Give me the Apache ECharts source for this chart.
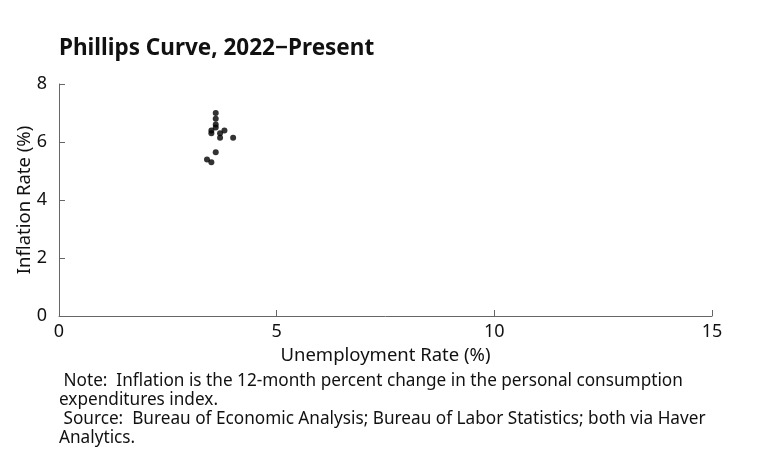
<!DOCTYPE html>
<html><head><meta charset="utf-8">
<script src="https://cdn.jsdelivr.net/npm/echarts@6/dist/echarts.min.js"></script>
<style>html,body{margin:0;padding:0;background:#fff}#c{width:757px;height:460px}</style>
</head><body><div id="c"></div>
<script>
const unemployment = [3.6, 3.6, 3.6, 3.6, 3.5, 3.5, 3.7, 3.7, 3.8, 4.0, 3.6, 3.4, 3.5];
const inflation = [7.0, 6.8, 6.6, 6.5, 6.4, 6.3, 6.3, 6.15, 6.4, 6.15, 5.65, 5.4, 5.3];
const xTicks = [0, 5, 10, 15];
const yTicks = [0, 2, 4, 6, 8];
const titleText = 'Phillips Curve, 2022\u2212Present';
const noteText = ' Note:  Inflation is the 12-month percent change in the personal consumption\nexpenditures index.\n Source:  Bureau of Economic Analysis; Bureau of Labor Statistics; both via Haver\nAnalytics.';
const font = '"Noto Sans", sans-serif';
const chart = echarts.init(document.getElementById('c'));
const axisCol = '#666';
chart.setOption({
  animation: false,
  backgroundColor: '#fff',
  title: { text: titleText, left: 54, top: 32, textStyle: { fontFamily: font, fontSize: 22.5, fontWeight: 'bold', color: '#111' } },
  grid: { left: 59, right: 45, top: 84, bottom: 144 },
  graphic: [{ type: 'text', left: 59, top: 372, style: { text: noteText, fontFamily: font, fontSize: 17.2, lineHeight: 19, fill: '#111' } }],
  xAxis: {
    type: 'value', min: xTicks[0], max: xTicks[xTicks.length-1], interval: 5,
    name: 'Unemployment Rate (%)', nameLocation: 'middle', nameGap: 30, nameMoveOverlap: false,
    nameTextStyle: { fontFamily: font, fontSize: 18.5, color: '#111' },
    axisLine: { show: true, lineStyle: { color: axisCol } },
    axisTick: { show: true, inside: true, length: 6, lineStyle: { color: axisCol } },
    axisLabel: { fontFamily: font, fontSize: 18, color: '#111', margin: 7 },
    splitLine: { show: false }
  },
  yAxis: {
    type: 'value', min: yTicks[0], max: yTicks[yTicks.length-1], interval: 2,
    name: 'Inflation Rate (%)', nameLocation: 'middle', nameGap: 25, nameMoveOverlap: false,
    nameTextStyle: { fontFamily: font, fontSize: 18.5, color: '#111' },
    axisLine: { show: true, lineStyle: { color: axisCol } },
    axisTick: { show: true, inside: true, length: 6, lineStyle: { color: axisCol } },
    axisLabel: { fontFamily: font, fontSize: 18, color: '#111', margin: 12 },
    splitLine: { show: false }
  },
  series: [{
    type: 'scatter', symbolSize: 6, itemStyle: { color: '#000' },
    data: unemployment.map((u, i) => [u, inflation[i]])
  }]
});
</script></body></html>
